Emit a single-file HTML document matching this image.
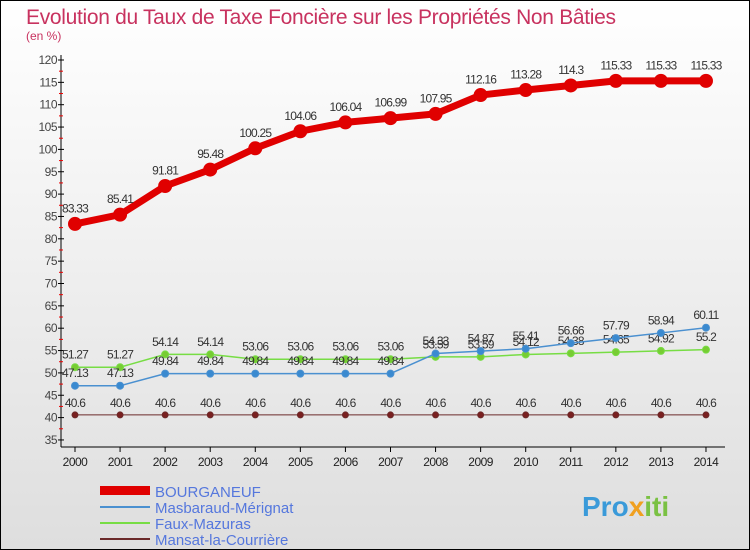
<!DOCTYPE html>
<html><head><meta charset="utf-8"><style>
body{margin:0;width:750px;height:550px;overflow:hidden;font-family:"Liberation Sans",sans-serif}
svg{display:block}
</style></head><body>
<svg id="c" width="750" height="550" xmlns="http://www.w3.org/2000/svg">
<defs><linearGradient id="bg" x1="0" y1="0" x2="0" y2="1"><stop offset="0" stop-color="#ffffff"/><stop offset="1" stop-color="#dedede"/></linearGradient></defs>
<rect x="0.5" y="0.5" width="749" height="549" fill="url(#bg)" stroke="#000"/>
<text x="26" y="24" font-size="21" fill="#c8325f" textLength="590">Evolution du Taux de Taxe Foncière sur les Propriétés Non Bâties</text>
<text x="26" y="40" font-size="12" fill="#c8325f">(en %)</text>
<g id="axes"></g><g id="series"></g>
<g>
<rect x="100" y="486" width="50" height="9" fill="#e00000"/>
<text x="155" y="497" font-size="15" fill="#5577dd">BOURGANEUF</text>
<rect x="100" y="506" width="50" height="2" fill="#4a90d0"/>
<text x="155" y="513" font-size="15" fill="#5577dd">Masbaraud-Mérignat</text>
<rect x="100" y="522" width="50" height="2" fill="#77dd44"/>
<text x="155" y="529" font-size="15" fill="#5577dd">Faux-Mazuras</text>
<rect x="100" y="538" width="50" height="2" fill="#6b2a2a"/>
<text x="155" y="545" font-size="15" fill="#5577dd">Mansat-la-Courrière</text>
</g>
<text x="582" y="516" font-size="28" font-weight="bold" fill="#3a9ad9">Pro<tspan fill="#f0a020">x</tspan><tspan fill="#7ac143">iti</tspan></text>
</svg>
<script>
const years=[2000,2001,2002,2003,2004,2005,2006,2007,2008,2009,2010,2011,2012,2013,2014];
const bourganeuf=[83.33,85.41,91.81,95.48,100.25,104.06,106.04,106.99,107.95,112.16,113.28,114.3,115.33,115.33,115.33];
const masbaraud=[47.13,47.13,49.84,49.84,49.84,49.84,49.84,49.84,54.33,54.87,55.41,56.66,57.79,58.94,60.11];
const fauxMazuras=[51.27,51.27,54.14,54.14,53.06,53.06,53.06,53.06,53.59,53.59,54.12,54.38,54.65,54.92,55.2];
const mansat=[40.6,40.6,40.6,40.6,40.6,40.6,40.6,40.6,40.6,40.6,40.6,40.6,40.6,40.6,40.6];
const yTicks=[35,40,45,50,55,60,65,70,75,80,85,90,95,100,105,110,115,120];
const NS='http://www.w3.org/2000/svg';
const X=i=>75+i*45.07, Y=v=>60+(120-v)*4.47;
function mk(t,a,p){const e=document.createElementNS(NS,t);for(const k in a)e.setAttribute(k,a[k]);p.appendChild(e);return e;}
const ax=document.getElementById('axes'), sg=document.getElementById('series');
const al=mk('line',{x1:61,y1:55,x2:61,y2:447,stroke:'#000'},ax);


const xl=mk('line',{x1:61,y1:447,x2:725,y2:447,stroke:'#000'},ax);


yTicks.forEach(v=>{
 mk('line',{x1:58,y1:Y(v),x2:64,y2:Y(v),stroke:'#000'},ax);
 if(v<120) mk('line',{x1:59,y1:Y(v+2.5),x2:63,y2:Y(v+2.5),stroke:'#e00'},ax);
 const t=mk('text',{x:57,y:Y(v)+4,'font-size':12,'text-anchor':'end',fill:'#444','letter-spacing':'-0.5'},ax);
 t.textContent=v;
 
 
});
years.forEach((y,i)=>{
 mk('line',{x1:X(i),y1:447,x2:X(i),y2:452,stroke:'#000'},ax);
 const t=mk('text',{x:X(i),y:466,'font-size':12,'text-anchor':'middle',fill:'#222','letter-spacing':'-0.5'},ax);
 t.textContent=y;
 
 
});
function series(name,data,color,w,r,dot){
 const g=mk('g',{},sg);
 
 
 const pl=mk('polyline',{points:data.map((v,i)=>X(i)+','+Y(v)).join(' '),fill:'none',stroke:color,'stroke-width':w,'stroke-linejoin':'round'},g);
 
 
 data.forEach((v,i)=>{
  const c=mk('circle',{cx:X(i),cy:Y(v),r:r,fill:dot,stroke:color,'stroke-width':1},g);
  
  
  const t=mk('text',{x:X(i),y:Y(v)-(r+5),'font-size':12,'text-anchor':'middle',fill:'#333','letter-spacing':'-0.8'},g);
  t.textContent=String(v);
  
  
 });
}
series('mansat',mansat,'#6b2a2a',1,3,'#7a2020');
series('faux-mazuras',fauxMazuras,'#77dd44',1.5,3.5,'#77cc33');
series('masbaraud',masbaraud,'#4a90d0',1.5,3.5,'#3a8ad0');
series('bourganeuf',bourganeuf,'#e00000',7,6.5,'#e00000');
</script>
</body></html>
